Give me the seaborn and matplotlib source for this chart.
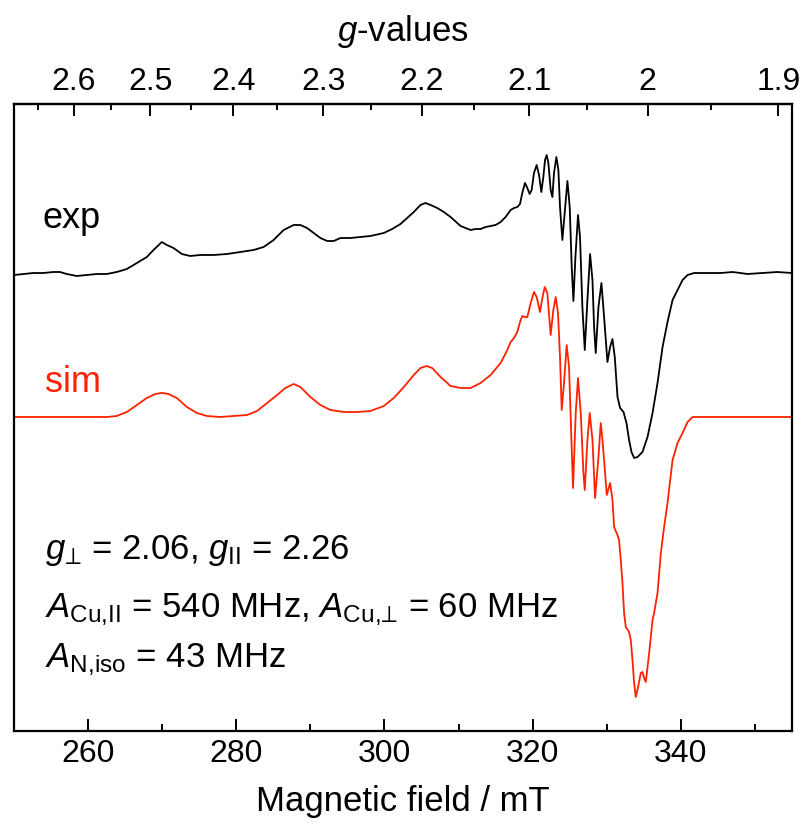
import numpy as np
import matplotlib
matplotlib.use("Agg")
import matplotlib.pyplot as plt
import seaborn as sns
from matplotlib.ticker import FixedLocator, FixedFormatter

# experimental trace: field (mT) and signal (a.u. above baseline)
exp_field = [250.0, 251.26, 252.61, 253.96, 255.32, 256.22, 257.12, 258.47, 259.82, 261.17,
             262.52, 263.87, 265.23, 266.58, 267.93, 268.83, 269.96, 270.63, 271.53, 272.66,
             273.78, 275.14, 276.93, 278.74, 280.54, 282.34, 283.69, 285.04, 286.39, 287.74,
             288.65, 289.55, 290.45, 291.35, 292.26, 293.15, 294.05, 295.41, 296.76, 298.11,
             299.91, 301.04, 302.16, 303.07, 303.96, 304.86, 305.54, 306.22, 307.12, 308.01,
             308.92, 309.82, 310.27, 310.95, 311.62, 312.30, 312.97, 313.65, 314.32, 315.0,
             315.68, 316.35, 317.03, 317.48, 317.93, 318.29, 318.60, 318.96, 319.28, 319.59,
             319.86, 320.18, 320.54, 320.86, 321.17, 321.44, 321.67, 321.89, 322.12, 322.43,
             322.66, 322.88, 323.20, 323.47, 323.69, 324.01, 324.32, 324.69, 325.0, 325.27,
             325.50, 325.77, 326.12, 326.39, 326.71, 327.03, 327.39, 327.75, 328.07, 328.29,
             328.51, 328.88, 329.28, 329.64, 330.09, 330.45, 330.77, 331.08, 331.45, 331.80,
             332.26, 332.66, 333.01, 333.34, 333.69, 334.15, 334.82, 335.50, 336.18, 336.85,
             337.53, 338.20, 338.88, 339.55, 340.23, 340.91, 341.80, 343.60, 345.41, 347.0,
             349.0, 351.0, 353.0, 355.0]
exp_signal = [-2, -1, 0, 0, 1, 1, -1, -3, -2, -1,
              -1, 1, 4, 10, 16, 23, 31, 28, 25, 19,
              17, 18, 18, 19, 21, 23, 26, 33, 43, 48,
              48, 45, 40, 35, 32, 32, 35, 35, 36, 37,
              40, 44, 49, 55, 61, 68, 70, 68, 65, 61,
              56, 50, 47, 45, 43, 44, 44, 46, 47, 48,
              51, 56, 63, 65, 66, 69, 80, 90, 85, 79,
              83, 100, 108, 98, 81, 96, 113, 118, 110, 83,
              76, 100, 116, 103, 66, 33, 60, 92, 66, 6,
              -28, 16, 58, 36, -34, -77, -27, 19, -7, -54,
              -80, -34, -10, -44, -89, -74, -66, -84, -124, -135,
              -139, -150, -167, -179, -185, -184, -179, -164, -140, -110,
              -74, -49, -27, -17, -7, -2, 0, 0, 0, 1,
              -1, 0, 1, 0]

# simulated trace: field (mT) and signal (a.u. above baseline)
sim_field = [250.0, 262.52, 263.87, 265.23, 266.58, 267.93, 269.05, 269.96, 270.85, 271.98,
             273.33, 274.69, 276.04, 277.84, 279.64, 281.45, 282.80, 284.15, 285.50, 286.62,
             287.74, 288.65, 290.0, 291.35, 292.70, 294.50, 296.31, 298.11, 299.91, 301.26,
             302.61, 303.96, 304.86, 305.68, 306.44, 307.57, 308.92, 310.27, 311.62, 312.97,
             314.32, 315.68, 316.58, 317.03, 317.48, 317.93, 318.29, 318.60, 318.92, 319.28,
             319.73, 320.18, 320.54, 320.99, 321.31, 321.62, 321.98, 322.43, 322.79, 323.11,
             323.42, 323.69, 323.92, 324.23, 324.59, 324.91, 325.23, 325.45, 325.81, 326.12,
             326.49, 326.85, 327.03, 327.39, 327.70, 328.07, 328.42, 328.88, 329.19, 329.42,
             329.64, 330.0, 330.45, 330.77, 330.99, 331.44, 331.66, 331.89, 332.12, 332.34,
             332.57, 333.01, 333.24, 333.47, 333.69, 333.92, 334.23, 334.59, 334.82, 335.04,
             335.27, 335.72, 336.18, 336.39, 336.85, 337.30, 337.74, 338.20, 338.88, 339.55,
             340.23, 340.91, 341.58, 342.26, 355.0]
sim_signal = [0, 0, 1, 5, 12, 19, 23, 24, 23, 19,
              10, 4, 1, 0, 1, 2, 6, 14, 22, 29,
              33, 30, 20, 12, 7, 5, 5, 6, 11, 19,
              30, 42, 49, 51, 49, 40, 31, 29, 29, 34,
              42, 54, 67, 75, 79, 85, 95, 101, 100, 100,
              114, 125, 120, 105, 119, 130, 124, 82, 107, 120,
              104, 60, 7, 34, 72, 50, -23, -71, 4, 39,
              4, -56, -73, -23, 4, -23, -81, -40, -6, -23,
              -43, -78, -66, -83, -110, -118, -123, -143, -166, -196,
              -210, -215, -223, -243, -266, -280, -270, -256, -255, -261,
              -265, -236, -203, -196, -176, -136, -110, -86, -43, -26,
              -16, -5, 0, 0, 0]

# stacking offsets for the two traces
exp_offset = 458
sim_offset = 314

g_major = [2.6, 2.5, 2.4, 2.3, 2.2, 2.1, 2.0, 1.9]
g_major_labels = ["2.6", "2.5", "2.4", "2.3", "2.2", "2.1", "2", "1.9"]
g_minor = [2.65, 2.55, 2.45, 2.35, 2.25, 2.15, 2.05, 1.95]
field_ticks = [260, 280, 300, 320, 340]
field_minor = [270, 290, 310, 330, 350]

# h*nu/mu_B in mT (resonance field of g = 1)
HNU = 671.0

sns.set_style("ticks")
plt.rcParams["font.family"] = ["Liberation Sans", "DejaVu Sans"]
plt.rcParams["mathtext.fontset"] = "custom"
plt.rcParams["mathtext.rm"] = "Liberation Sans"
plt.rcParams["mathtext.it"] = "Liberation Sans:italic"
plt.rcParams["mathtext.fallback"] = "stixsans"
plt.rcParams["text.color"] = "black"
plt.rcParams["axes.labelcolor"] = "black"
plt.rcParams["xtick.color"] = "black"
plt.rcParams["ytick.color"] = "black"

RED = "#ff2200"
PERP = "\u22a5"

fig = plt.figure(figsize=(8.06, 8.25), dpi=100)
ax = fig.add_axes([14 / 806, 94 / 825, 778 / 806, 627 / 825])

sns.lineplot(x=np.array(exp_field), y=np.array(exp_signal) + exp_offset,
             color="black", lw=1.3, ax=ax)
sns.lineplot(x=np.array(sim_field), y=np.array(sim_signal) + sim_offset,
             color=RED, lw=1.3, ax=ax)

ax.set_xlim(250, 355)
ax.set_ylim(0, 627)
ax.set_yticks([])
ax.set_ylabel("")

ax.set_xticks(field_ticks)
ax.set_xticks(field_minor, minor=True)
ax.tick_params(axis="x", which="major", direction="in", length=8.5, width=1.4,
               labelsize=23, pad=6)
ax.tick_params(axis="x", which="minor", direction="in", length=5, width=1.4)
ax.set_xlabel("Magnetic field / mT", fontsize=25, labelpad=11)

for sp in ax.spines.values():
    sp.set_linewidth(1.6)
    sp.set_color("black")

# top axis in g-values
top = ax.secondary_xaxis("top", functions=(lambda b: HNU / np.asarray(b, float),
                                           lambda g: HNU / np.asarray(g, float)))
top.xaxis.set_major_locator(FixedLocator(g_major))
top.xaxis.set_major_formatter(FixedFormatter(g_major_labels))
top.xaxis.set_minor_locator(FixedLocator(g_minor))
top.tick_params(axis="x", which="major", direction="in", length=8.5, width=1.4,
                labelsize=23, pad=5)
top.tick_params(axis="x", which="minor", direction="in", length=4.5, width=1.4)
top.spines["top"].set_linewidth(1.6)
top.set_xlabel("$g$-values", fontsize=25, labelpad=19)

# trace labels
ax.text(0.037, 0.802, "exp", transform=ax.transAxes, fontsize=26,
        va="baseline", ha="left")
ax.text(0.040, 0.541, "sim", transform=ax.transAxes, fontsize=26, color=RED,
        va="baseline", ha="left")

# simulation parameters
ax.text(0.040, 0.274, r"$g_{%s}$ = 2.06, $g_{\mathrm{II}}$ = 2.26" % PERP,
        transform=ax.transAxes, fontsize=25, va="baseline", ha="left")
ax.text(0.040, 0.182, r"$A_{\mathrm{Cu{,}II}}$ = 540 MHz, $A_{\mathrm{Cu{,}%s}}$ = 60 MHz" % PERP,
        transform=ax.transAxes, fontsize=25, va="baseline", ha="left")
ax.text(0.040, 0.102, r"$A_{\mathrm{N{,}iso}}$ = 43 MHz",
        transform=ax.transAxes, fontsize=25, va="baseline", ha="left")

fig.savefig("out.png", dpi=100)
